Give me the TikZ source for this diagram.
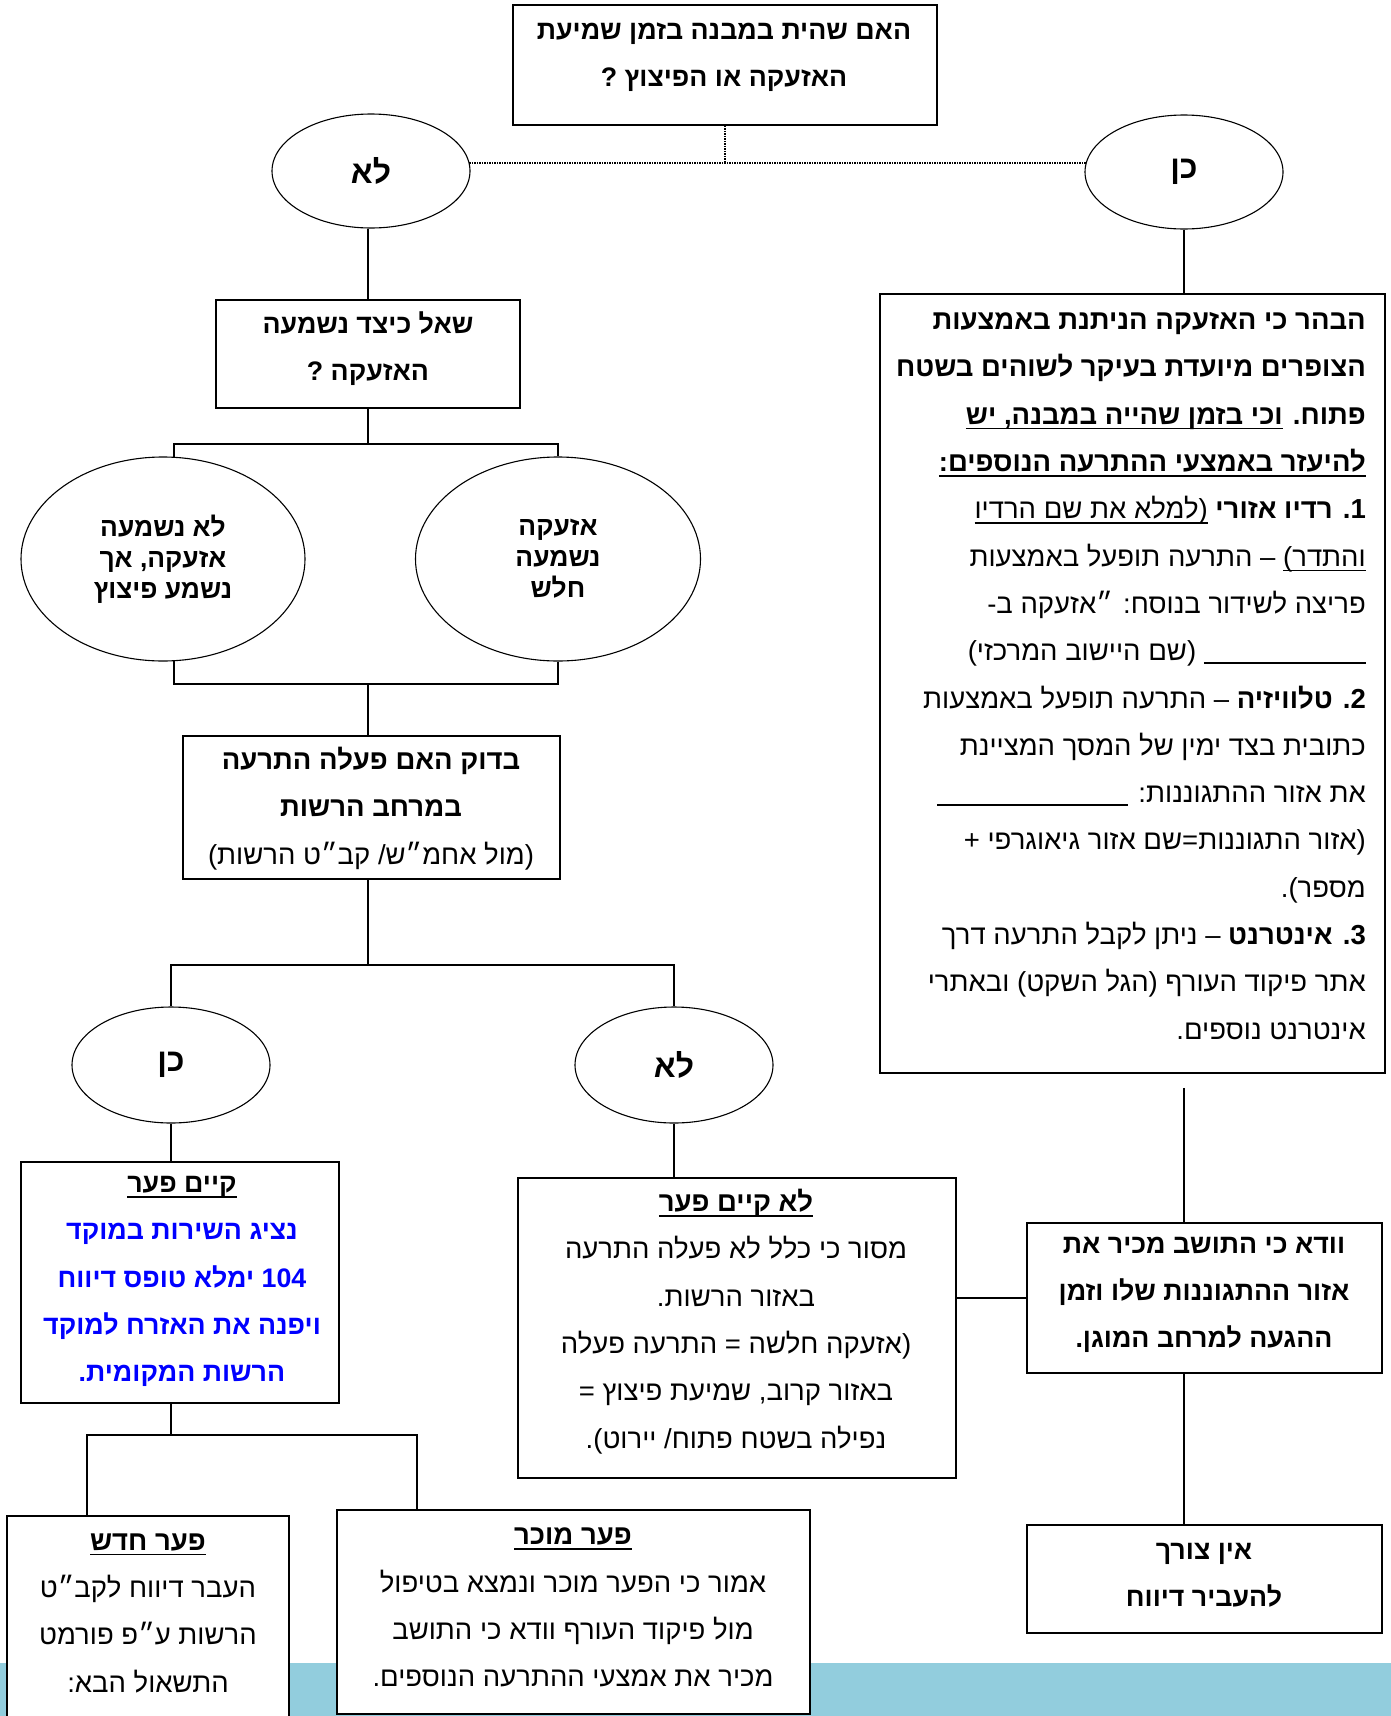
\documentclass[tikz,border=0pt]{standalone}
\usepackage{fontspec}
\usetikzlibrary{shapes.geometric}
\newfontfamily\heb[Script=Hebrew]{Liberation Sans}
\TeXXeTstate=1
\definecolor{bandblue}{RGB}{146,205,221}
\definecolor{txtblue}{RGB}{0,0,255}
\newcommand\R[1]{\beginR#1\endR}
\newcommand\hul[1]{\leavevmode\setbox0=\hbox{\beginR#1\endR}\dp0=0pt\vtop{\box0\kern3.5pt\hrule height1.6pt}}
\newcommand\blank[1]{\rule[-3pt]{#1}{1.4pt}}
\newcommand\BR[1]{{\color{txtblue}\beginR#1\endR}}
\begin{document}
\begin{tikzpicture}[x=1pt,y=-1pt,
  box/.style={draw=black,line width=1.8pt,fill=white,rectangle,inner sep=0pt},
  oval/.style={draw=black,line width=1.1pt,ellipse,inner sep=0pt,fill=white,align=center,
     font=\heb\bfseries\fontsize{26.4}{31}\selectfont},
  big/.style={font=\heb\bfseries\fontsize{32}{36}\selectfont},
  txt/.style={inner sep=0pt,align=center,font=\heb\fontsize{27.5}{47.3}\selectfont},
  btxt/.style={txt,font=\heb\bfseries\fontsize{26.8}{47.3}\selectfont},
  conn/.style={line width=1.8pt},
  dots/.style={line width=1.2pt,dash pattern=on 1.2pt off 1.3pt}]
\useasboundingbox (0,0) rectangle (1391,1716);
\fill[bandblue] (0,1663) rectangle (1391,1716);

% boxes
\node[box,minimum width=424pt,minimum height=120pt] (Q) at (725,65) {};
\node[box,minimum width=304pt,minimum height=108pt] (A) at (368,354) {};
\node[box,minimum width=377pt,minimum height=143pt] (B) at (371.5,807.5) {};
\node[box,minimum width=318pt,minimum height=241pt] (C) at (180,1282.5) {};
\node[box,minimum width=438pt,minimum height=300pt] (D) at (737,1328) {};
\node[box,minimum width=505pt,minimum height=779pt] (R) at (1132.5,683.5) {};
\node[box,minimum width=355pt,minimum height=150pt] (F) at (1204.5,1298) {};
\node[box,minimum width=355pt,minimum height=108pt] (G) at (1204.5,1579) {};
\node[box,minimum width=282pt,minimum height=224pt] (H) at (148,1628) {};
\node[box,minimum width=473pt,minimum height=204pt] (I) at (573.5,1612) {};

% ovals
\node[oval,big,minimum width=198pt,minimum height=114pt] (E1) at (371,171) {\R{לא}};
\node[oval,big,minimum width=198pt,minimum height=114pt] (E2) at (1184,172) {\R{כן}};
\node[oval,minimum width=284pt,minimum height=204pt] (E3) at (163,559) {\R{לא נשמעה}\\\R{אזעקה, אך}\\\R{נשמע פיצוץ}};
\node[oval,minimum width=285pt,minimum height=204pt] (E4) at (558,559) {\R{אזעקה}\\\R{נשמעה}\\\R{חלש}};
\node[oval,big,minimum width=198pt,minimum height=116pt] (E5) at (171,1065) {\R{כן}};
\node[oval,big,minimum width=198pt,minimum height=116pt] (E6) at (674,1065) {\R{לא}};

% texts
\node[btxt] (Qt) at (724,57.5) {\R{האם שהית במבנה בזמן שמיעת}\\\R{האזעקה או הפיצוץ ?}};
\node[btxt] (At) at (368,348.5) {\R{שאל כיצד נשמעה}\\\R{האזעקה ?}};
\node[txt] (Bt) at (371,808.5) {\R{\textbf{בדוק האם פעלה התרעה}}\\\R{\textbf{במרחב הרשות}}\\\R{(מול אחמ״ש/ קב״ט הרשות)}};
\node[btxt] (Ct) at (182,1281.5) {\R{\hul{קיים פער}}\\
  \BR{נציג השירות במוקד}\\
  \BR{104 ימלא טופס דיווח}\\
  \BR{ויפנה את האזרח למוקד}\\
  \BR{הרשות המקומית.}};
\node[txt] (Dt) at (736,1321.5) {\R{\textbf{\hul{לא קיים פער}}}\\
  \R{מסור כי כלל לא פעלה התרעה}\\
  \R{באזור הרשות.}\\
  \R{(אזעקה חלשה = התרעה פעלה}\\
  \R{באזור קרוב, שמיעת פיצוץ =}\\
  \R{נפילה בשטח פתוח/ יירוט).}};
\node[btxt] (Ft) at (1204,1295) {\R{וודא כי התושב מכיר את}\\\R{אזור ההתגוננות שלו וזמן}\\\R{ההגעה למרחב המוגן.}};
\node[btxt] (Gt) at (1204,1575) {\R{אין צורך}\\\R{להעביר דיווח}};
\node[txt] (Ht) at (148,1613) {\R{\textbf{\hul{פער חדש}}}\\
  \R{העבר דיווח לקב״ט}\\
  \R{הרשות ע״פ פורמט}\\
  \R{התשאול הבא:}};
\node[txt] (It) at (573,1607.5) {\R{\textbf{\hul{פער מוכר}}}\\
  \R{אמור כי הפער מוכר ונמצא בטיפול}\\
  \R{מול פיקוד העורף וודא כי התושב}\\
  \R{מכיר את אמצעי ההתרעה הנוספים.}};
\node[txt,align=right,anchor=east] (Rt) at (1366,676) {%
  \R{\textbf{הבהר כי האזעקה הניתנת באמצעות}}\\
  \R{\textbf{הצופרים מיועדת בעיקר לשוהים בשטח}}\\
  \R{\textbf{פתוח. \hul{וכי בזמן שהייה במבנה, יש}}}\\
  \R{\textbf{\hul{להיעזר באמצעי ההתרעה הנוספים:}}}\\
  \R{\textbf{1. רדיו אזורי} \hul{(למלא את שם הרדיו}}\\
  \R{\hul{והתדר)} – התרעה תופעל באמצעות}\\
  \R{פריצה לשידור בנוסח: ״אזעקה ב-}\\
  \R{\blank{162pt} (שם היישוב המרכזי)}\\
  \R{\textbf{2. טלוויזיה} – התרעה תופעל באמצעות}\\
  \R{כתובית בצד ימין של המסך המציינת}\\
  \R{את אזור ההתגוננות: \blank{191pt}}\\
  \R{(אזור התגוננות=שם אזור גיאוגרפי +}\\
  \R{מספר).}\\
  \R{\textbf{3. אינטרנט} – ניתן לקבל התרעה דרך}\\
  \R{אתר פיקוד העורף (הגל השקט) ובאתרי}\\
  \R{אינטרנט נוספים.}};

% connectors
\draw[dots] (Q.south) -- ++(0,37) coordinate (jq);
\draw[dots] (jq -| E1.5) -- (jq -| E2.175);
\draw[conn] (A.north) -- (A.north |- E1.south);
\draw[conn] (A.south) -- ++(0,35) coordinate (j1);
\draw[conn] (j1) -| (E3.84);
\draw[conn] (j1) -| (E4.north);
\coordinate (j2) at (368,684);
\draw[conn] (E3.276) |- (j2);
\draw[conn] (E4.south) |- (j2);
\draw[conn] (j2) -- (j2 |- B.north);
\draw[conn] (j2 |- B.south) -- ++(0,85) coordinate (j3);
\draw[conn] (j3) -| (E5.north);
\draw[conn] (j3) -| (E6.north);
\draw[conn] (E5.south) -- (E5.south |- C.north);
\draw[conn] (E6.south) -- (E6.south |- D.north);
\draw[conn] (F.west) -- (F.west -| D.east);
\draw[conn] (E2.south) -- (E2.south |- R.north);
\coordinate (rb) at ([yshift=-14pt]R.south);
\draw[conn] (rb -| E2.south) -- (E2.south |- F.north);
\draw[conn] (F.south -| E2.south) -- (E2.south |- G.north);
\draw[conn] (C.south -| E5.south) -- ++(0,31) coordinate (j4);
\draw[conn] (j4) -| ([xshift=81pt]H.north west);
\draw[conn] (j4) -| ([xshift=81pt]I.north west);
\end{tikzpicture}
\end{document}
